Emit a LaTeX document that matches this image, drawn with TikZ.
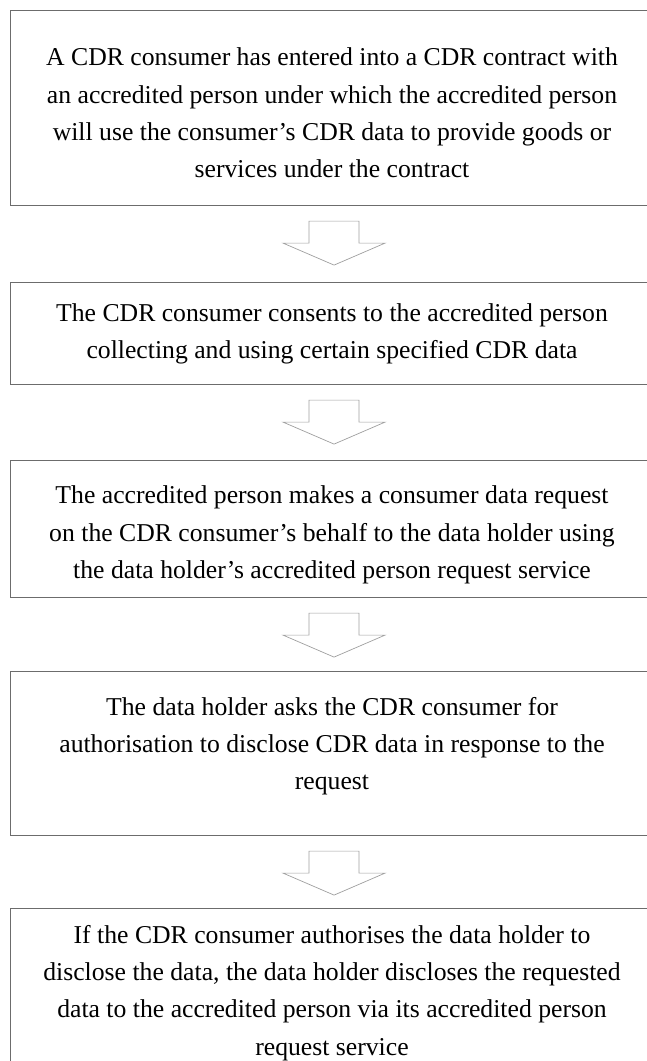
\documentclass[tikz,border=0pt]{standalone}
\usepackage{fontspec}
\setmainfont{Liberation Serif}
\usetikzlibrary{calc}
\begin{document}
\begin{tikzpicture}[x=1pt,y=-1pt,
  stepbox/.style={draw=gray!85!black,line width=1.1pt,fill=white,anchor=north west,inner sep=0pt,minimum width=647pt},
  steptext/.style={align=center,inner sep=0pt,font=\fontsize{25.7}{37.2}\selectfont},
  blockarrow/.style={draw=gray!75,line width=0.7pt,fill=white,line join=miter}]
\useasboundingbox (0,0) rectangle (647,1061);
\clip (0,0) rectangle (647,1061);
\node[stepbox,minimum height=195pt] (b1) at (10,10) {};
\node[stepbox,minimum height=102pt] (b2) at (10,282) {};
\node[stepbox,minimum height=137pt] (b3) at (10,460) {};
\node[stepbox,minimum height=164pt] (b4) at (10,671) {};
\node[stepbox,minimum height=200pt] (b5) at (10,908) {};
\node[steptext] (t1) at (332,113) {A CDR consumer has entered into a CDR contract with\\an accredited person under which the accredited person\\will use the consumer’s CDR data to provide goods or\\services under the contract};
\node[steptext] (t2) at (332,334) {The CDR consumer consents to the accredited person\\collecting and using certain specified CDR data};
\node[steptext] (t3) at (332,535) {The accredited person makes a consumer data request\\on the CDR consumer’s behalf to the data holder using\\the data holder’s accredited person request service};
\node[steptext] (t4) at (332,746) {The data holder asks the CDR consumer for\\authorisation to disclose CDR data in response to the\\request};
\node[steptext] (t5) at (332,993) {If the CDR consumer authorises the data holder to\\disclose the data, the data holder discloses the requested\\data to the accredited person via its accredited person\\request service};
\foreach \a in {b1,b2,b3,b4}{
  \draw[blockarrow] ($(\a.south)+(-25,15)$) -- ($(\a.south)+(25,15)$) -- ($(\a.south)+(25,37)$) -- ($(\a.south)+(51,37)$) -- ($(\a.south)+(0,59)$) -- ($(\a.south)+(-51,37)$) -- ($(\a.south)+(-25,37)$) -- cycle;
}
\end{tikzpicture}
\end{document}
